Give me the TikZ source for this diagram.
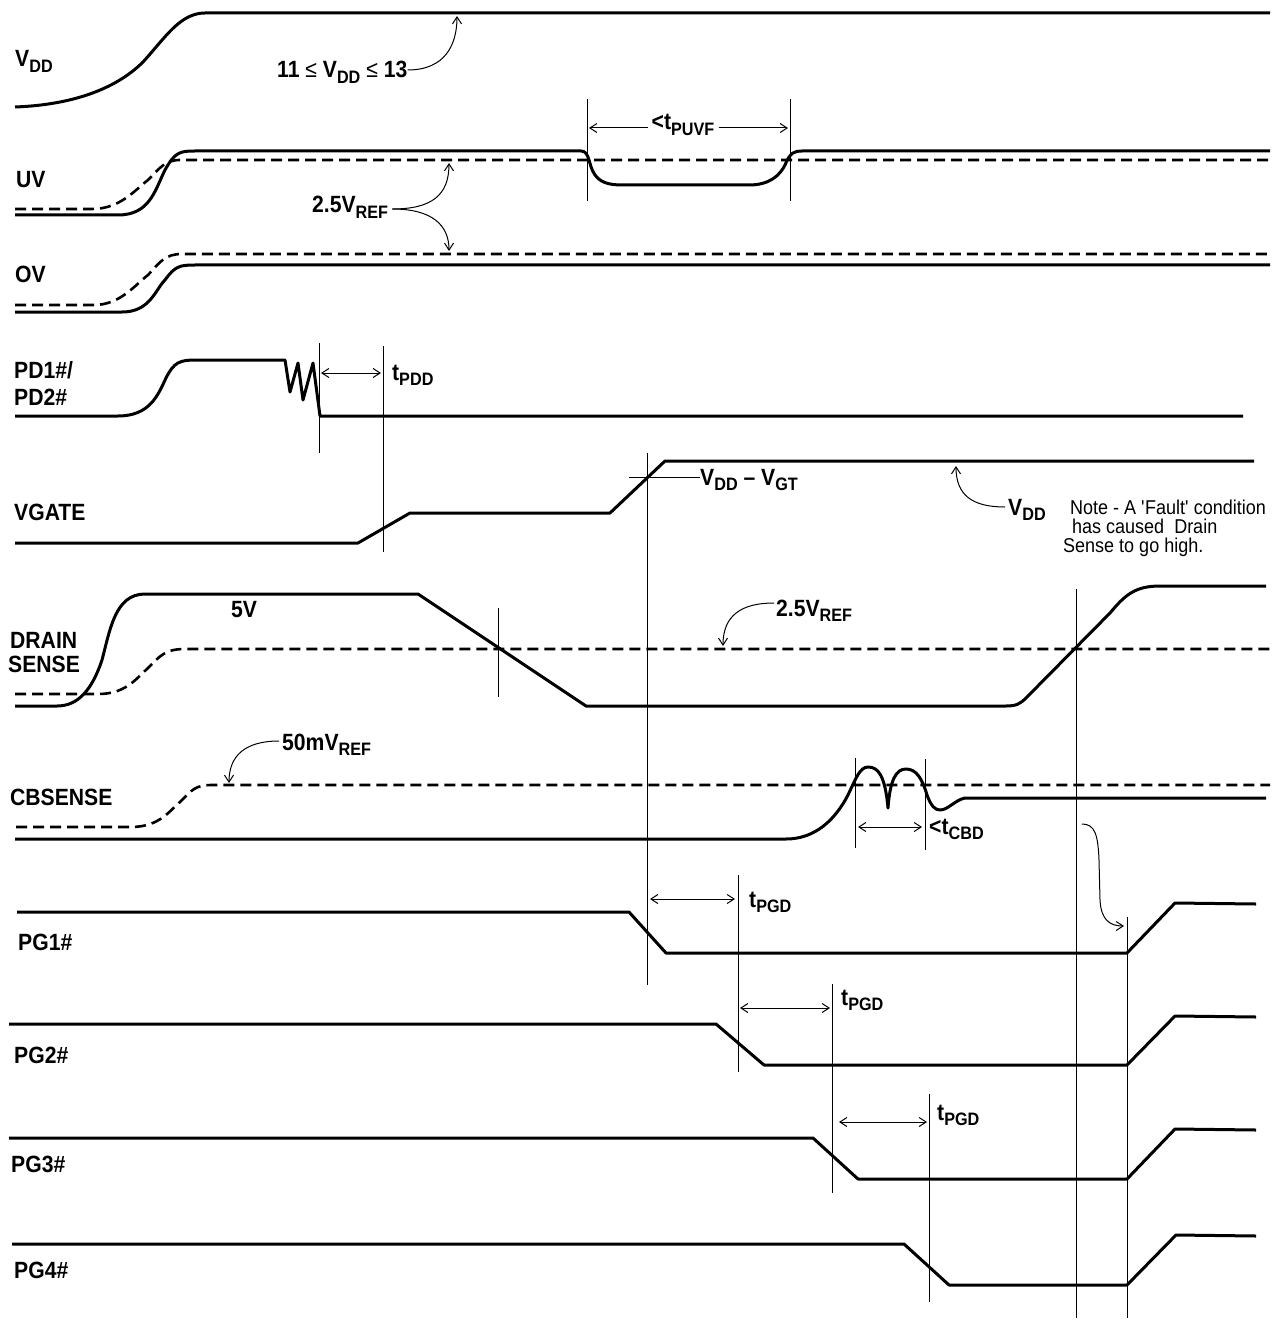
\documentclass[tikz,border=0pt]{standalone}
\usepackage{fontspec}
\setmainfont{Liberation Sans}
\newfontfamily\lblfont[FakeStretch=0.9,Ligatures=TeX]{Liberation Sans}
\usetikzlibrary{arrows.meta}
\newcommand\lsub[1]{\raisebox{-0.25em}{\fontsize{18}{18}\selectfont #1}}
\begin{document}
\begin{tikzpicture}[x=1pt,y=-1pt,
 sig/.style={line width=3pt, line join=round},
 refl/.style={line width=2.6pt, dash pattern=on 11pt off 6pt},
 mk/.style={line width=1pt},
 arr/.style={line width=1pt, -{Straight Barb[length=7pt,width=9pt]}},
 darr/.style={line width=1pt, {Straight Barb[length=7pt,width=9pt]}-{Straight Barb[length=7pt,width=9pt]}},
 lbl/.style={anchor=base west, inner sep=0pt, font=\lblfont\fontsize{23.5}{27}\selectfont\bfseries},
 notetxt/.style={anchor=base west, inner sep=0pt, font=\lblfont\fontsize{20}{22}\selectfont}]
\useasboundingbox[fill=white] (0,0) rectangle (1278,1321);

% ---------- signal labels
\node[lbl] (lvdd) at (15,67) {V\lsub{DD}};
\node[lbl] (luv) at (16,188) {UV};
\node[lbl] (lov) at (15,283) {OV};
\node[lbl] (lpd1) at (14,378) {PD1\#/};
\node[lbl] (lpd2) at (14,405) {PD2\#};
\node[lbl] (lvg) at (14,520) {VGATE};
\node[lbl] (lds1) at (10,648) {DRAIN};
\node[lbl] (lds2) at (8,672) {SENSE};
\node[lbl] (lcb) at (10,805) {CBSENSE};
\node[lbl] (lpg1) at (18,950) {PG1\#};
\node[lbl] (lpg2) at (14,1063) {PG2\#};
\node[lbl] (lpg3) at (11,1172) {PG3\#};
\node[lbl] (lpg4) at (14,1278) {PG4\#};

% ---------- VDD
\draw[sig] (15,107) .. controls (70,105) and (115,90) .. (143,62)
  .. controls (165,38) and (180,13) .. (205,13) -- (1270,13);
\node[lbl] (vddrng) at (277,78) {11 {\mdseries ≤} V\lsub{DD} {\mdseries ≤} 13};
\coordinate (vddtip) at (457,16);
\draw[arr] (vddrng.east |- 0,70) .. controls (445,70) and (457,45) .. (vddtip);

% ---------- UV
\draw[refl] (15,209) -- (92,209) .. controls (120,209) and (135,190) .. (148,180)
  .. controls (160,168) and (165,160) .. (180,160) -- (1270,160);
\draw[sig] (15,215) -- (118,215) .. controls (150,215) and (155,190) .. (165,170)
  .. controls (175,152) and (180,151) .. (195,151) -- (581,151)
  .. controls (590,151) and (588,165) .. (595,175)
  .. controls (602,185) and (615,185) .. (625,185) -- (749,185)
  .. controls (770,185) and (780,175) .. (785,165)
  .. controls (790,152) and (795,151) .. (802,151) -- (1270,151);
\draw[mk] (587,99) coordinate (pu1t) -- (587,201) coordinate (pu1b);
\draw[mk] (790,99) coordinate (pu2t) -- (790,201) coordinate (pu2b);
\node[lbl, anchor=base] (tpuvf) at (683,130) {<t\lsub{PUVF}};
\draw[arr] (tpuvf.west |- 0,128) ++(-4,0) -- (589,128);
\draw[arr] (tpuvf.east |- 0,128) ++(4,0) -- (788,128);

% ---------- OV
\draw[refl] (15,305) -- (94,305) .. controls (120,305) and (135,285) .. (148,275)
  .. controls (160,262) and (165,254) .. (182,254) -- (1270,254);
\draw[sig] (15,312) -- (122,312) .. controls (150,312) and (155,290) .. (165,280)
  .. controls (175,266) and (180,265) .. (195,265) -- (1270,265);

% 2.5Vref for UV/OV
\node[lbl] (uvref) at (312,213) {2.5V\lsub{REF}};
\coordinate (uvtip) at (449,163);
\coordinate (ovtip) at (449,251);
\draw[arr] (uvref.east |- 0,209) ++(4,0) .. controls (432,209) and (449,195) .. (uvtip);
\draw[arr] (uvref.east |- 0,209) ++(4,0) .. controls (432,209) and (449,225) .. (ovtip);

% ---------- PD1#/PD2#
\draw[sig] (15,416) -- (118,416) .. controls (150,416) and (158,395) .. (166,378)
  .. controls (174,362) and (180,360) .. (196,360) -- (285,360) -- (290,392)
  -- (298,363) -- (303,400) -- (313,363) -- (320,416) -- (1243,416);
\draw[mk] (319,343) -- (319,453);
\draw[mk] (383,346) -- (383,552);
\coordinate (pdd1) at (321,373);
\coordinate (pdd2) at (381,373);
\draw[darr] (pdd1) -- (pdd2);
\node[lbl] (tpdd) at (392,380) {t\lsub{PDD}};

% ---------- VGATE
\draw[sig] (15,543) -- (358,543) -- (410,513) -- (610,513) -- (665,461) -- (1254,461);
\draw[mk] (647,453) -- (647,985);
\node[lbl] (vgt) at (700,485) {V\lsub{DD} – V\lsub{GT}};
\draw[mk] (629,477) -- (vgt.west |- 0,477) ++(-4,0);
\node[lbl] (vddr) at (1008,515) {V\lsub{DD}};
\coordinate (vgtip) at (956,466);
\draw[arr] (vddr.west |- 0,507) ++(-3,0) .. controls (972,507) and (956,495) .. (vgtip);
\node[notetxt] (note1) at (1070,514) {Note - A \textquotesingle Fault\textquotesingle\ condition};
\node[notetxt] (note2) at (1072,533) {has caused\ \ Drain};
\node[notetxt] (note3) at (1063,552) {Sense to go high.};

% ---------- DRAIN SENSE
\draw[refl] (15,694) -- (98,694) .. controls (125,694) and (135,680) .. (148,668)
  .. controls (160,656) and (165,649) .. (185,649) -- (1270,649);
\draw[sig] (15,706) -- (57,706) .. controls (78,706) and (92,690) .. (102,660)
  .. controls (110,630) and (115,594) .. (145,594) -- (418,594) -- (586,706)
  -- (1006,706) .. controls (1016,706) and (1020,704) .. (1026,698) -- (1110,613)
  .. controls (1125,595) and (1135,586) .. (1160,586) -- (1266,586);
\node[lbl] (fivev) at (231,617) {5V};
\draw[mk] (498,608) -- (498,697);
\draw[mk] (1076,589) -- (1076,1318);
\node[lbl] (dsref) at (776,616) {2.5V\lsub{REF}};
\coordinate (dstip) at (723,646);
\draw[arr] (dsref.west |- 0,603) ++(-2,0) .. controls (742,603) and (723,615) .. (dstip);

% ---------- CBSENSE
\draw[refl] (16,827) -- (131,827) .. controls (160,827) and (170,810) .. (180,802)
  .. controls (192,790) and (195,785) .. (212,785) -- (1270,785);
\draw[sig] (15,839) -- (786,839) .. controls (815,839) and (835,820) .. (848,795)
  .. controls (856,778) and (860,767) .. (868,767)
  .. controls (878,767) and (885,775) .. (888,808)
  .. controls (890,780) and (896,769) .. (906,769)
  .. controls (916,769) and (922,778) .. (927,795)
  .. controls (931,806) and (935,810) .. (940,810)
  .. controls (948,810) and (955,800) .. (965,798) -- (1266,798);
\node[lbl] (cbref) at (282,750) {50mV\lsub{REF}};
\coordinate (cbtip) at (229,783);
\draw[arr] (cbref.west |- 0,741) ++(-3,0) .. controls (246,741) and (229,755) .. (cbtip);
\draw[mk] (855,758) -- (855,848);
\draw[mk] (925,759) -- (925,850);
\coordinate (cbd1) at (858,827);
\coordinate (cbd2) at (922,827);
\draw[darr] (cbd1) -- (cbd2);
\node[lbl] (tcbd) at (929,834) {<t\lsub{CBD}};

% ---------- PG#
\draw[sig] (17,912) -- (629,912) -- (666,953) -- (1127,953) -- (1175,903) -- (1256,904);
\draw[sig] (9,1024) -- (716,1024) -- (764,1065) -- (1127,1065) -- (1175,1016) -- (1256,1017);
\draw[sig] (9,1138) -- (813,1138) -- (858,1179) -- (1127,1179) -- (1175,1129) -- (1256,1130);
\draw[sig] (12,1244) -- (904,1244) -- (949,1285) -- (1127,1285) -- (1176,1235) -- (1256,1236);

\draw[mk] (738,875) -- (738,1072);
\draw[mk] (832,984) -- (832,1193);
\draw[mk] (929,1094) -- (929,1302);
\draw[mk] (1127,917) -- (1127,1318);

\coordinate (pg1a) at (650,899); \coordinate (pg1b) at (735,899);
\coordinate (pg2a) at (740,1008); \coordinate (pg2b) at (830,1008);
\coordinate (pg3a) at (839,1122); \coordinate (pg3b) at (927,1122);
\draw[darr] (pg1a) -- (pg1b);
\draw[darr] (pg2a) -- (pg2b);
\draw[darr] (pg3a) -- (pg3b);
\node[lbl] (tpgd1) at (749,907) {t\lsub{PGD}};
\node[lbl] (tpgd2) at (841,1005) {t\lsub{PGD}};
\node[lbl] (tpgd3) at (937,1120) {t\lsub{PGD}};

% fault arrow
\coordinate (fst) at (1082,824);
\coordinate (ftip) at (1124,926);
\draw[arr] (fst) .. controls (1095,824) and (1098,835) .. (1099,860)
  -- (1100,900) .. controls (1101,920) and (1110,926) .. (ftip);
\end{tikzpicture}
\end{document}
